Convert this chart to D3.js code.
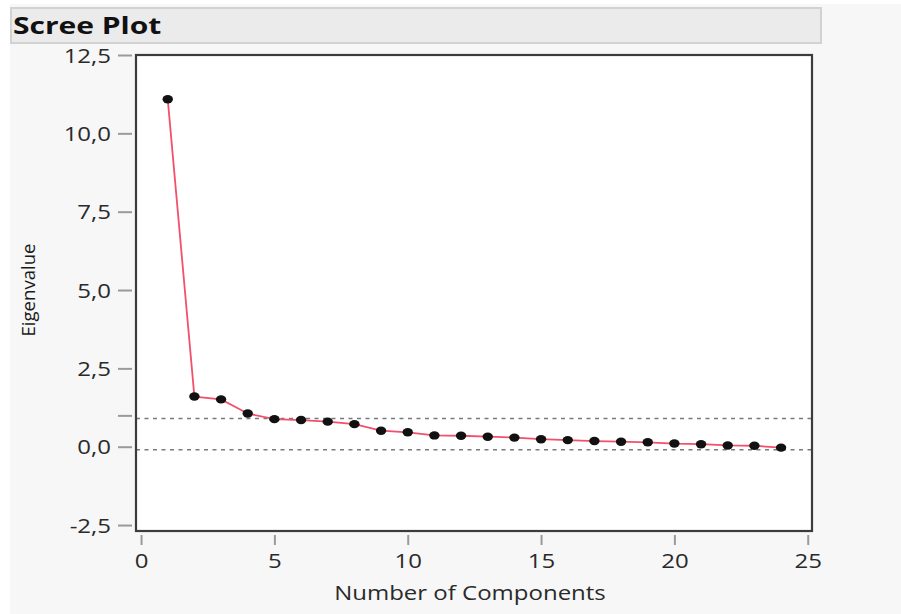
<!DOCTYPE html>
<html>
<head>
<meta charset="utf-8">
<script src="https://cdn.jsdelivr.net/npm/d3@7/dist/d3.min.js"></script>
<style>
  html, body { margin: 0; padding: 0; background: #ffffff; }
  svg { display: block; }
</style>
</head>
<body>
<svg id="chart" width="901" height="614"></svg>
<script>
// Eigenvalues of the principal components, in order
const components = [1, 2, 3, 4, 5, 6, 7, 8, 9, 10, 11, 12, 13, 14, 15, 16, 17, 18, 19, 20, 21, 22, 23, 24];
const eigenvalues = [11.09, 1.60, 1.51, 1.06, 0.88, 0.85, 0.80, 0.72, 0.51, 0.46, 0.36, 0.35,
                     0.32, 0.29, 0.24, 0.21, 0.18, 0.16, 0.14, 0.10, 0.08, 0.04, 0.03, -0.03];
// Axis ticks
const xTicks = [0, 5, 10, 15, 20, 25];
const yTicks = [-2.5, 0, 1, 2.5, 5, 7.5, 10, 12.5];
const yLabelled = [-2.5, 0, 2.5, 5, 7.5, 10, 12.5];
// Dashed reference lines
const refLines = [0.9, -0.1];

const title = "Scree Plot";
const xTitle = "Number of Components";
const yTitle = "Eigenvalue";

const svg = d3.select("#chart");
const sx = 1.2; // horizontal text stretch

// panel background and title bar
svg.append("rect").attr("x", 10).attr("y", 4).attr("width", 891).attr("height", 610).attr("fill", "#f7f7f7");
svg.append("rect").attr("x", 11).attr("y", 8).attr("width", 810).attr("height", 35)
  .attr("fill", "#ebebeb").attr("stroke", "#d2d2d2").attr("stroke-width", 2);
svg.append("text")
  .attr("transform", `translate(13,34) scale(1.25,1)`)
  .attr("font-family", "'Open Sans', sans-serif").attr("font-weight", 700)
  .attr("font-size", 24).attr("fill", "#111").text(title);

// plot frame
const frame = { left: 136, top: 55, right: 812, bottom: 531 };
const x = d3.scaleLinear().domain([-0.19, 25.16]).range([frame.left, frame.right]);
const y = d3.scaleLinear().domain([-2.69, 12.5]).range([frame.bottom, frame.top]);

svg.append("rect").attr("x", frame.left).attr("y", frame.top)
  .attr("width", frame.right - frame.left).attr("height", frame.bottom - frame.top)
  .attr("fill", "#ffffff");

// decimal comma, plain hyphen for negatives
const fmt = v => yLabelled.includes(v)
  ? d3.format(".1f")(v).replace(".", ",").replace("\u2212", "-")
  : "";

// y axis
const yAxis = svg.append("g").attr("transform", `translate(${frame.left - 4},0)`)
  .call(d3.axisLeft(y).tickValues(yTicks).tickFormat(fmt).tickSize(14));
yAxis.select(".domain").remove();
yAxis.selectAll(".tick line").attr("stroke", "#9a9a9a").attr("stroke-width", 2);
yAxis.selectAll(".tick text")
  .attr("x", -21 / sx).attr("dy", "0.35em")
  .attr("transform", `scale(${sx},1)`)
  .attr("font-family", "'Open Sans', sans-serif").attr("font-size", 20).attr("fill", "#2a2a2a");

// x axis
const xAxis = svg.append("g").attr("transform", `translate(0,${frame.bottom + 4})`)
  .call(d3.axisBottom(x).tickValues(xTicks).tickFormat(d3.format("d")).tickSize(10));
xAxis.select(".domain").remove();
xAxis.selectAll(".tick line").attr("stroke", "#9a9a9a").attr("stroke-width", 2);
xAxis.selectAll(".tick text")
  .attr("y", 26).attr("dy", "0.35em")
  .attr("transform", `scale(${sx},1)`)
  .attr("font-family", "'Open Sans', sans-serif").attr("font-size", 20).attr("fill", "#2a2a2a");

// axis titles
svg.append("text")
  .attr("transform", `translate(${(frame.left + frame.right) / 2 - 4},600) scale(${sx},1)`)
  .attr("text-anchor", "middle")
  .attr("font-family", "'Open Sans', sans-serif").attr("font-size", 20).attr("fill", "#2a2a2a")
  .text(xTitle);
svg.append("text")
  .attr("transform", `translate(35,290) scale(1.1,1) rotate(-90)`)
  .attr("text-anchor", "middle")
  .attr("textLength", 93).attr("lengthAdjust", "spacingAndGlyphs")
  .attr("font-family", "'Open Sans', sans-serif").attr("font-size", 16).attr("fill", "#1a1a1a")
  .text(yTitle);

// reference lines
svg.append("g").selectAll("line").data(refLines).join("line")
  .attr("x1", frame.left).attr("x2", frame.right)
  .attr("y1", d => y(d)).attr("y2", d => y(d))
  .attr("stroke", "#7a7a7a").attr("stroke-width", 1.5).attr("stroke-dasharray", "4,4.5");

// scree line and points
const pts = components.map((c, i) => ({ c, v: eigenvalues[i] }));
svg.append("path").datum(pts)
  .attr("fill", "none").attr("stroke", "#f2506c").attr("stroke-width", 1.8)
  .attr("d", d3.line().x(d => x(d.c)).y(d => y(d.v)));
svg.append("g").selectAll("ellipse").data(pts).join("ellipse")
  .attr("cx", d => x(d.c)).attr("cy", d => y(d.v))
  .attr("rx", 5.2).attr("ry", 4.2).attr("fill", "#111");

// frame border
svg.append("rect").attr("x", frame.left).attr("y", frame.top)
  .attr("width", frame.right - frame.left).attr("height", frame.bottom - frame.top)
  .attr("fill", "none").attr("stroke", "#3c3c3c").attr("stroke-width", 2.2);
</script>
</body>
</html>
